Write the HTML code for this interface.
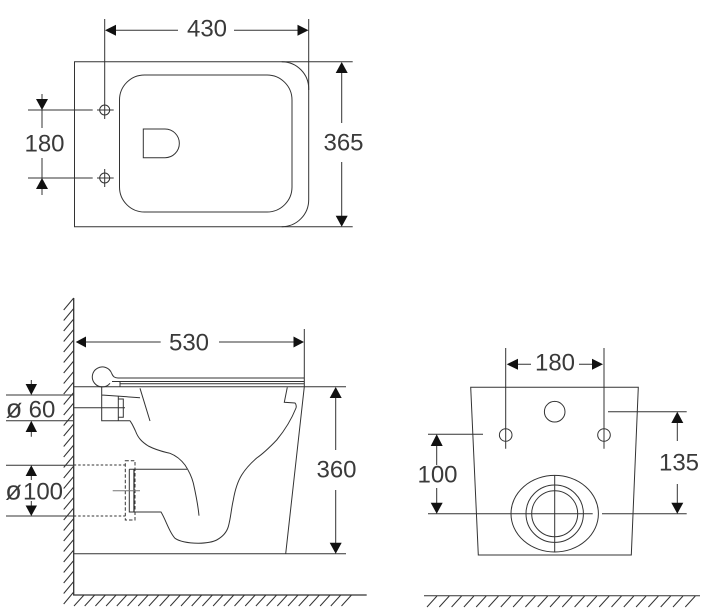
<!DOCTYPE html>
<html><head><meta charset="utf-8"><style>
html,body{margin:0;padding:0;background:#fff}
svg{display:block;filter:blur(.3px)}
text{font-family:"Liberation Sans",sans-serif;font-size:24px;fill:#3a3a3a;text-anchor:middle}
.l{fill:none;stroke:#333;stroke-width:1}
</style></head><body>
<svg width="719" height="615" viewBox="0 0 719 615" xmlns="http://www.w3.org/2000/svg">
<g class="l">
<!-- top view -->
<path d="M352.7 61.7H74.5V226.7H352.7"/>
<path d="M281.7 61.7A27 27 0 0 1 308.7 88.7V199.7A27 27 0 0 1 281.7 226.7"/>
<rect x="119.5" y="75" width="172.5" height="137" rx="25" ry="25"/>
<path d="M143.3 129H165a14.35 14.35 0 0 1 0 28.7H143.3Z"/>
<path d="M104.7 19V119M308.7 19V90M28 110H92.7M97 110H113.7M28 178H92.7M97 178H113.7M104.7 169V187"/>
<circle cx="104.7" cy="110" r="5"/><circle cx="104.7" cy="178" r="5"/>
<path d="M116 30.3H178M234 30.3H298"/>
<path d="M42 94V128M42 158V195"/>
<path d="M341.7 73V123M341.7 162V216"/>
<!-- side view -->
<path d="M73.7 298V595H366.7" stroke-width="1.3"/>
<path d="M73.7 298l-10 12m10-1.5l-10 12m10-1.5l-10 12m10-1.5l-10 12m10-1.5l-10 12m10-1.5l-10 12m10-1.5l-10 12m10-1.5l-10 12m10-1.5l-10 12m10-1.5l-10 12m10-1.5l-10 12m10-1.5l-10 12m10-1.5l-10 12m10-1.5l-10 12m10-1.5l-10 12m10-1.5l-10 12m10-1.5l-10 12m10-1.5l-10 12m10-1.5l-10 12m10-1.5l-10 12m10-1.5l-10 12m10-1.5l-10 12m10-1.5l-10 12m10-1.5l-10 12m10-1.5l-10 12m10-1.5l-10 12m10-1.5l-10 12m10-1.5l-10 12m10-1.5l-10 12"/>
<path d="M84 595l-10 11m20.7-11l-10 11m20.7-11l-10 11m20.7-11l-10 11m20.7-11l-10 11m20.7-11l-10 11m20.7-11l-10 11m20.7-11l-10 11m20.7-11l-10 11m20.7-11l-10 11m20.7-11l-10 11m20.7-11l-10 11m20.7-11l-10 11m20.7-11l-10 11m20.7-11l-10 11m20.7-11l-10 11m20.7-11l-10 11m20.7-11l-10 11m20.7-11l-10 11m20.7-11l-10 11m20.7-11l-10 11m20.7-11l-10 11m20.7-11l-10 11m20.7-11l-10 11m20.7-11l-10 11m20.7-11l-10 11"/>
<path d="M73.7 386.7H346M73.7 553.7H346"/>
<path d="M86 342H160.7M219 342H294M304.3 329V386.7L285.7 553.7"/>
<!-- seat -->
<path d="M111.7 373.5C113 376.5 114.500 378 118 378H304.3M112 381.500H304.3M120 383.700H304.3M120 381.500V386.700"/>
<path d="M111.700 373.500A10 10 0 1 0 110 383.300"/>
<!-- fixing block -->
<path d="M101.7 386.7V420.7H130M130 420.7C133 425 134 428 135.500 431M101.7 395L140 397.700M118.3 395.700V420.7M118.3 399H123.300V417.300H118.3M73.7 407.700H125M140 388.300L150 421"/>
<!-- bowl -->
<path d="M135.500 431C138 438 142 442 148.3 446C158 451 165 452 170 453.3C177 456 182 461 185 465C189 471 192 478 193.3 483C196 495 198 505 199 515.700"/>
<path d="M129.3 469.300H187M129.3 469.300V512H161C166 520 169 532 175 538.300C179 541 185 543 198.3 543.300C207 543 213 542 216.7 540C224 536 227 531 228.3 526.700C231 517 231 510 233.3 500C235 490 238 481 241.7 475C246 468 251 463 256.7 458C264 453 270 447 276.7 440C285 430 292 418 296 408C296.500 406 296 404 295 403L284.300 402.300L287.300 387.300"/>
<path d="M134 469.300V512" stroke-width="1.300"/>
<path d="M125.300 460.700H135V520H125.300Z" stroke-dasharray="3.500 2"/>
<path d="M73.700 465H125M73.700 516H125" stroke-dasharray="2.500 2"/>
<path d="M112.700 490.700H140" stroke="#777"/>
<!-- left dimensions -->
<path d="M6 395H73M6 420.700H73M6 465.300H73M6 516H73"/>
<path d="M31.300 380V386M31.300 431V436.700M31.300 475V480M31.300 501V506"/>
<path d="M335.700 398V450M335.700 490V543"/>
<!-- front view -->
<path d="M470.700 387.300H638.300L631.300 555H478.300Z"/>
<circle cx="554.700" cy="411.700" r="10.300"/>
<circle cx="505.700" cy="435" r="6.300"/><circle cx="604" cy="435" r="6.300"/>
<path d="M505.700 348V448.700M604 348V448.700"/>
<path d="M518 364.300H531M579 364.300H592"/>
<path d="M608 411.700H686.700M428 434.300H483M428 513.700H592.700M602 513.700H686.700M554.700 475V551.700"/>
<ellipse cx="554.700" cy="513.700" rx="43.700" ry="38.300"/>
<circle cx="554.700" cy="513.700" r="28.700"/><circle cx="554.700" cy="513.700" r="23"/>
<path d="M436.700 446V465M436.700 488V503M677.300 423V441M677.300 484V503"/>
<path d="M424 595.700H700"/>
<path d="M437 596l-10 11m22.300-11l-10 11m22.300-11l-10 11m22.300-11l-10 11m22.300-11l-10 11m22.300-11l-10 11m22.300-11l-10 11m22.300-11l-10 11m22.300-11l-10 11m22.300-11l-10 11m22.300-11l-10 11m22.300-11l-10 11m22.300-11l-10 11m22.300-11l-10 11m22.300-11l-10 11m22.300-11l-10 11m22.300-11l-10 11m22.300-11l-10 11m22.300-11l-10 11m22.300-11l-10 11m22.300-11l-10 11m22.300-11l-10 11"/>
</g>
<g fill="#111">
<path d="M105 30.300L116 24.800V35.800Z"/><path d="M308.500 30.300L297.500 24.800V35.800Z"/>
<path d="M42 110L36 99H48Z"/><path d="M42 178L36 189H48Z"/>
<path d="M341.700 62L335.700 73H347.700Z"/><path d="M341.700 226.700L335.700 215.700H347.700Z"/>
<path d="M75.700 342L86 336.500V347.500Z"/><path d="M304 342L293.500 336.500V347.500Z"/>
<path d="M31.300 395L25.600 384H37Z"/><path d="M31.300 420.700L25.600 432H37Z"/>
<path d="M31.300 465.300L25.600 476H37Z"/><path d="M31.300 516L25.600 505.500H37Z"/>
<path d="M335.700 387L329.700 398H341.700Z"/><path d="M335.700 553.700L329.700 542.700H341.700Z"/>
<path d="M506.700 364.300L518 358.800V369.800Z"/><path d="M603 364.300L592 358.800V369.800Z"/>
<path d="M436.700 434.300L430.700 446H442.700Z"/><path d="M436.700 513.700L430.700 502.700H442.700Z"/>
<path d="M677.300 411.700L671.300 423H683.300Z"/><path d="M677.300 513.700L671.300 502.700H683.300Z"/>
</g>
<text x="207" y="36.500">430</text>
<text x="44.500" y="151.500">180</text>
<text x="343.500" y="150.500">365</text>
<text x="189" y="350.500">530</text>
<text x="14" y="417.500" style="font-size:27px">ø</text>
<text x="42" y="417.500">60</text>
<text x="13.500" y="499.500" style="font-size:27px">ø</text>
<text x="43" y="499.500">100</text>
<text x="336.500" y="477.500">360</text>
<text x="555" y="370.500">180</text>
<text x="437.500" y="482.500">100</text>
<text x="679" y="470.500">135</text>
</svg>
</body></html>
